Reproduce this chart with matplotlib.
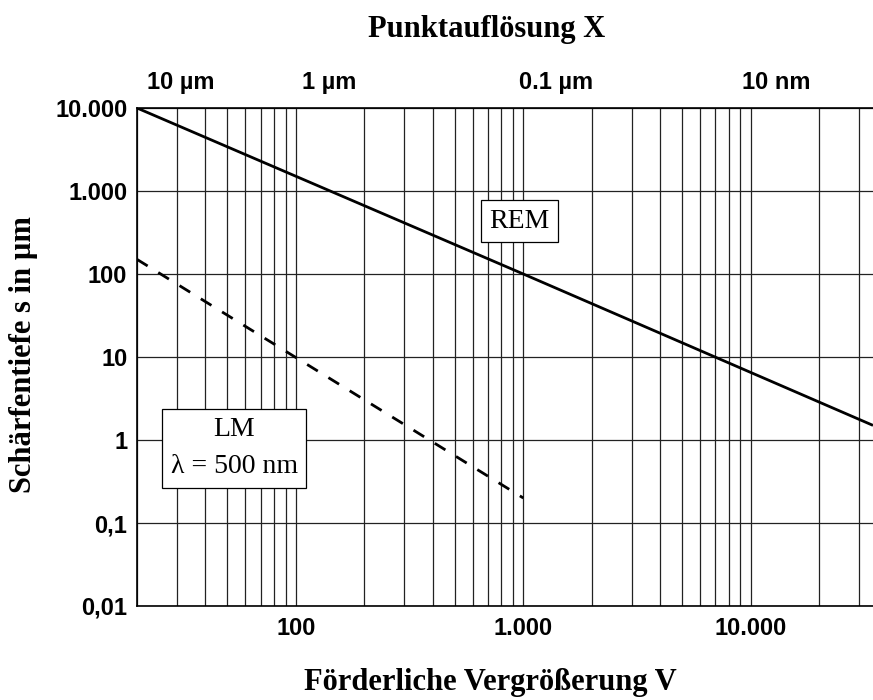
import matplotlib
matplotlib.use('Agg')
import matplotlib.pyplot as plt
import matplotlib.ticker as ticker

# data
rem_v = [20, 1000, 34500]
rem_s = [10000, 100, 1.5]
lm_v = [20, 1000]
lm_s = [150, 0.2]

y_ticks = [0.01, 0.1, 1, 10, 100, 1000, 10000]
y_ticklabels = ['0,01', '0,1', '1', '10', '100', '1.000', '10.000']
x_ticks = [100, 1000, 10000]
x_ticklabels = ['100', '1.000', '10.000']
top_ticks = [31, 140, 1400, 13000]
top_ticklabels = ['10 µm', '1 µm', '0.1 µm', '10 nm']

sans = {'family': 'Liberation Sans', 'weight': 'bold', 'size': 17}
serif_bold = {'family': 'Liberation Serif', 'weight': 'bold', 'size': 22}
serif = {'family': 'Liberation Serif', 'weight': 'normal', 'size': 20}

fig = plt.figure(figsize=(8.73, 7), dpi=100)
ax = fig.add_axes([137 / 873, 94 / 700, 736 / 873, 498 / 700])
ax.set_xscale('log')
ax.set_yscale('log')
ax.set_xlim(20, 34500)
ax.set_ylim(0.01, 10000)

# grid: every 1..9 multiple on x, decades only on y
ax.xaxis.set_minor_locator(ticker.LogLocator(base=10, subs=range(2, 10), numticks=20))
ax.xaxis.set_minor_formatter(ticker.NullFormatter())
ax.yaxis.set_minor_locator(ticker.NullLocator())
ax.grid(which='both', axis='x', color='#222222', linewidth=0.9)
ax.grid(which='major', axis='y', color='#222222', linewidth=0.9)
ax.set_axisbelow(True)

ax.set_xticks(x_ticks, x_ticklabels)
ax.set_yticks(y_ticks, y_ticklabels)
for lab in ax.get_xticklabels() + ax.get_yticklabels():
    lab.set_fontproperties(matplotlib.font_manager.FontProperties(**sans))
ax.tick_params(axis='both', which='both', length=0)
ax.tick_params(axis='x', pad=8)
ax.tick_params(axis='y', pad=7)

for side in ['left', 'bottom', 'top']:
    ax.spines[side].set_linewidth(1.2)
ax.spines['right'].set_visible(False)

# curves
ax.plot(rem_v, rem_s, color='black', linewidth=2.0, solid_capstyle='butt')
ax.plot(lm_v, lm_s, color='black', linewidth=2.0, dashes=(4.5, 4.5))

# labels in boxes
ax.text(0.520, 0.773, 'REM', transform=ax.transAxes, ha='center', va='center', fontdict=serif,
        bbox=dict(boxstyle='square,pad=0.3', facecolor='white', edgecolor='black', linewidth=0.9))
ax.text(0.132, 0.317, 'LM\nλ = 500 nm', transform=ax.transAxes, ha='center', va='center',
        multialignment='center', fontdict=serif, linespacing=1.65,
        bbox=dict(boxstyle='square,pad=0.3', facecolor='white', edgecolor='black', linewidth=0.9))

# top axis with resolution labels
ax2 = ax.twiny()
ax2.set_xscale('log')
ax2.set_xlim(ax.get_xlim())
ax2.xaxis.set_minor_locator(ticker.NullLocator())
ax2.set_xticks(top_ticks, top_ticklabels)
for lab in ax2.get_xticklabels():
    lab.set_fontproperties(matplotlib.font_manager.FontProperties(**sans))
ax2.tick_params(axis='x', which='both', length=0, pad=10)
for side in ax2.spines:
    ax2.spines[side].set_visible(False)

fig.text(487 / 873, 663 / 700, 'Punktauflösung X', ha='center', va='baseline', fontdict=serif_bold)
fig.text(490 / 873, 10 / 700, 'Förderliche Vergrößerung V', ha='center', va='baseline', fontdict=serif_bold)
fig.text(24 / 873, 1 - 355 / 700, 'Schärfentiefe s in µm', ha='center', va='center',
         rotation=90, fontdict=serif_bold)

fig.savefig('out.png', dpi=100)
